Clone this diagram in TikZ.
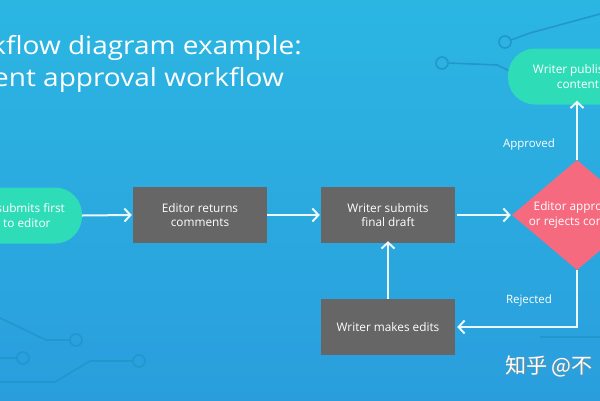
\documentclass[tikz,border=0pt]{standalone}
\usepackage{fontspec}
\setmainfont{Open Sans}
\newfontfamily\ttlfont{Open Sans}[FakeStretch=1.12]
\newfontfamily\cjk{Noto Sans CJK SC}
\usetikzlibrary{arrows.meta,shapes.geometric}
\definecolor{bgtop}{HTML}{2BB6E2}
\definecolor{bgbot}{HTML}{2A9EDD}
\definecolor{boxgray}{HTML}{666666}
\definecolor{mint}{HTML}{2FDCB8}
\definecolor{pinkd}{HTML}{F66A7F}
\definecolor{circ}{HTML}{2396CC}
\definecolor{arr}{HTML}{EAF7FC}
\begin{document}
\begin{tikzpicture}[x=1pt,y=-1pt,
  box/.style={fill=boxgray, minimum width=134pt, minimum height=56pt, text=white,
    font=\fontsize{11.8}{14.5}\selectfont, align=center, inner sep=0pt},
  pill/.style={fill=mint, rounded corners=27pt, minimum width=140pt, minimum height=56pt,
    text=white, font=\fontsize{11.8}{14.5}\selectfont, align=center, inner sep=0pt},
  flow/.style={draw=arr, line width=2pt, -{Straight Barb[length=6pt,width=13pt]}},
  lbl/.style={text=white, font=\fontsize{11.5}{13}\selectfont, inner sep=0pt},
  circuit/.style={draw=circ, line width=1.6pt},
  ttl/.style={text=white, font=\ttlfont\fontsize{25}{30}\selectfont, inner sep=0pt, anchor=base east}
]
\clip (0,0) rectangle (600,400);
\shade[top color=bgtop, bottom color=bgbot] (0,0) rectangle (600,400);

% circuit decorations
\draw[circuit] (0,318) -- (46,340) -- (70,340);
\draw[circuit] (76,340) circle (6pt);
\draw[circuit] (0,358) -- (17,358);
\draw[circuit] (23,358) circle (6pt);
\draw[circuit] (0,382) -- (55,382) -- (90,361) -- (133,361);
\draw[circuit] (139,361) circle (6pt);
\draw[circuit] (448,63) -- (497,65) -- (512,72);
\draw[circuit] (442,63) circle (6pt);
\draw[circuit] (511,40) -- (530,33) -- (600,14);
\draw[circuit] (505,42) circle (6pt);
\draw[circuit] (540,337) -- (600,337);

% title
\node[ttl] (t1) at (302,54) {Workflow diagram example:};
\node[ttl] (t2) at (284,86) {Content approval workflow};

% nodes
\node[pill] (p1) at (12,215.5) {Writer submits first\\draft to editor};
\node[box] (b1) at (200,215) {Editor returns\\comments};
\node[box] (b2) at (388,215) {Writer submits\\final draft};
\node[diamond, fill=pinkd, minimum width=130pt, minimum height=110pt, inner sep=0pt] (d) at (577,215) {};
\node[text=white, font=\fontsize{11.8}{14.5}\selectfont, align=center, inner sep=0pt] (dt) at (d.center)
  {Editor approves\\or rejects content};
\node[pill] (p2) at (578,76.5) {Writer publishes\\content};
\node[box] (b3) at (388,327) {Writer makes edits};

% connectors
\draw[flow] (p1.east) -- ([xshift=-1pt]b1.west);
\draw[flow] (b1.east) -- ([xshift=-1pt]b2.west);
\draw[flow] ([xshift=2pt]b2.east) -- ([xshift=-1pt]d.west);
\draw[flow] (d.north) -- ([yshift=4pt]p2.south -| d.north);
\draw[flow] (d.south) |- ([xshift=2pt]b3.east);
\draw[flow] (b3.north) -- ([yshift=2pt]b2.south);

\node[lbl] (la) at (529,145) {Approved};
\node[lbl] (lr) at (529,301) {Rejected};

% watermark
\node[text=black!45, font=\cjk\fontsize{21}{24}\selectfont, anchor=west, inner sep=0pt] (wms) at (505.8,366.8) {知乎 @不};
\node[text=white, font=\cjk\fontsize{21}{24}\selectfont, anchor=west, inner sep=0pt] (wm) at (505,366) {知乎 @不};
\end{tikzpicture}
\end{document}
